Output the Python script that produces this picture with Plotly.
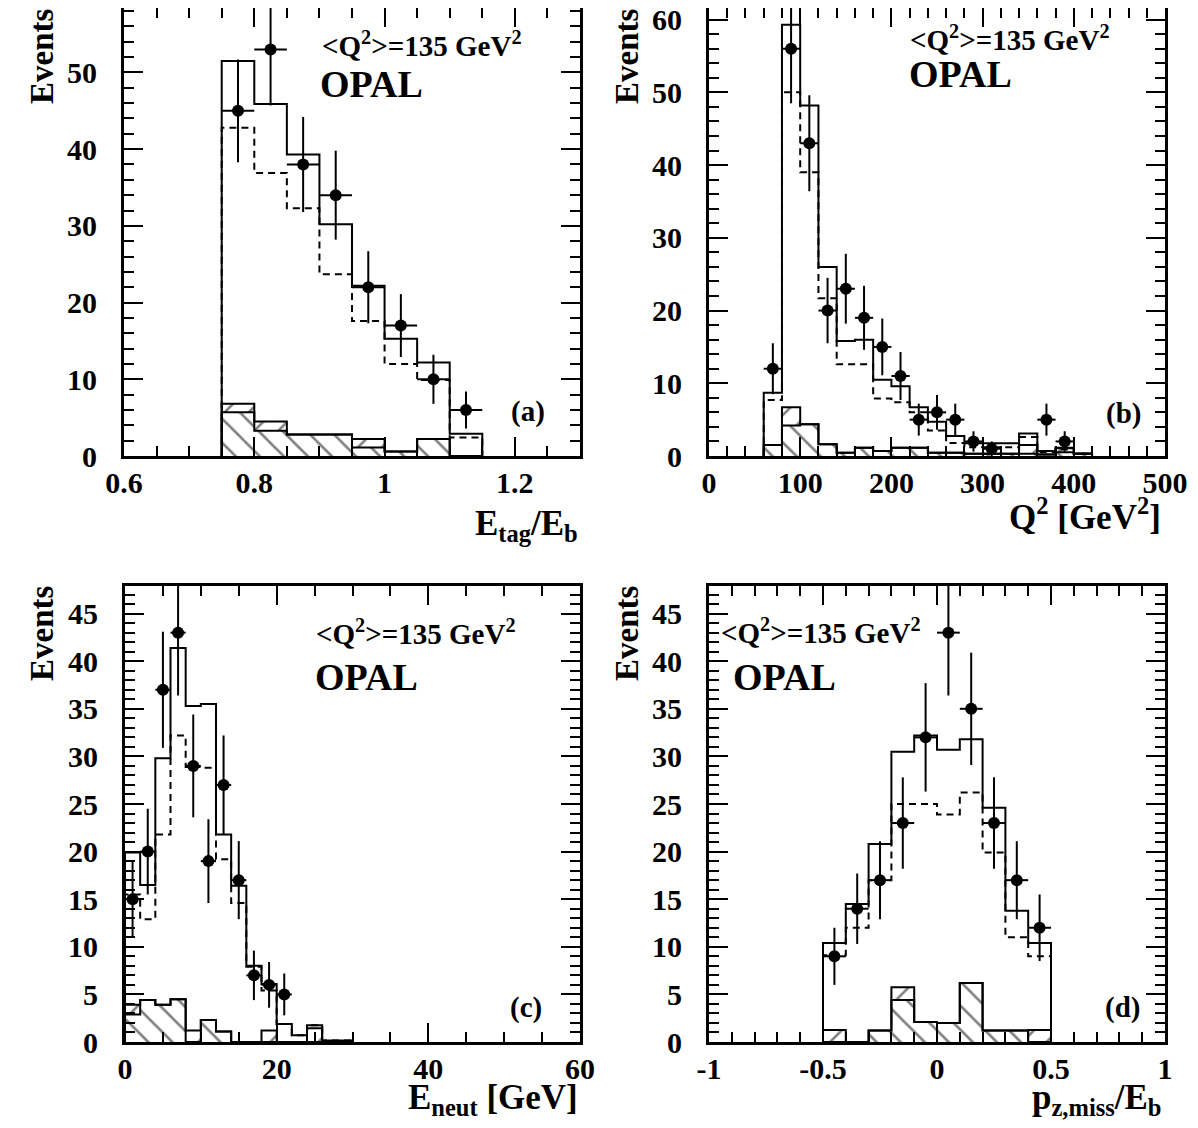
import plotly.graph_objects as go

FONT = "Liberation Serif"
W, H = 1198, 1128
OFF = 8  # default page margin around the plot div
FW, FH = W - 2 * OFF, H - 2 * OFF

# ---- panel (a): E_tag/E_b ----
etag_edges = [0.75, 0.80, 0.85, 0.90, 0.95, 1.00, 1.05, 1.10, 1.15]
etag_total = [51.5, 45.9, 39.3, 30.2, 22.2, 15.3, 12.2, 2.9]
etag_signal = [42.8, 36.9, 32.3, 23.7, 17.6, 12.0, 9.9, 2.4]
etag_bkg1 = [5.7, 3.3, 2.8, 2.8, 1.1, 0.6, 2.2, 0.0]
etag_bkg2 = [6.8, 4.5, 2.8, 2.8, 2.2, 0.6, 2.2, 0.0]
etag_x = [0.775, 0.825, 0.875, 0.925, 0.975, 1.025, 1.075, 1.125]
etag_n = [45, 53, 38, 34, 22, 17, 10, 6]
etag_err = [6.7, 7.3, 6.2, 5.8, 4.7, 4.1, 3.2, 2.4]

# ---- panel (b): Q^2 ----
q2_edges = [60, 80, 100, 120, 140, 160, 180, 200, 220, 240, 260, 280, 300,
            320, 340, 360, 380, 400, 420]
q2_total = [8.7, 59.3, 48.2, 26.0, 15.8, 16.0, 10.5, 9.6, 6.7, 4.7, 2.75,
            1.75, 1.75, 1.75, 3.1, 0.7, 1.15, 0.35]
q2_signal = [7.7, 50.0, 39.0, 21.7, 12.6, 12.6, 7.9, 7.4, 6.0, 3.5, 1.8,
             1.2, 1.2, 1.2, 2.6, 0.5, 0.9, 0.3]
q2_bkg1 = [1.5, 4.2, 4.35, 1.6, 0.45, 1.15, 0.7, 1.15, 1.15, 0.45, 0.45,
           0.3, 0.3, 0.3, 0.3, 0.2, 0.5, 0.3]
q2_bkg2 = [1.5, 6.7, 4.35, 1.6, 0.45, 1.15, 0.7, 1.15, 1.15, 0.45, 0.45,
           0.3, 0.3, 0.3, 1.5, 0.2, 1.05, 0.3]
q2_x = [70, 90, 110, 130, 150, 170, 190, 210, 230, 250, 270, 290, 310, 370, 390]
q2_n = [12, 56, 43, 20, 23, 19, 15, 11, 5, 6, 5, 2, 1, 5, 2]
q2_err = [3.5, 7.5, 6.6, 4.5, 4.8, 4.4, 3.9, 3.3, 2.2, 2.4, 2.2, 1.4, 1.0, 2.2, 1.4]

# ---- panel (c): E_neut ----
en_edges = [0, 2, 4, 6, 8, 10, 12, 14, 16, 18, 20, 22, 24, 26, 28, 30]
en_total = [19.9, 16.5, 29.8, 41.4, 35.3, 35.5, 21.8, 16.4, 8.0, 6.1, 1.9,
            0.7, 1.75, 0.17, 0.17]
en_signal = [15.5, 12.9, 21.8, 32.2, 28.9, 28.8, 19.2, 14.6, 7.9, 5.4, 1.9,
             0.7, 1.75, 0.17, 0.17]
en_bkg1 = [2.9, 4.4, 3.9, 4.5, 0.0, 2.3, 1.1, 0.0, 0.0, 0.0, 0.0, 0.0, 0.0, 0.0, 0.0]
en_bkg2 = [3.9, 4.4, 3.9, 4.5, 1.2, 2.3, 1.1, 0.0, 0.0, 1.2, 0.0, 0.0, 1.45, 0.0, 0.0]
en_x = [1, 3, 5, 7, 9, 11, 13, 15, 17, 19, 21]
en_n = [15, 20, 37, 43, 29, 19, 27, 17, 7, 6, 5]
en_err = [3.9, 4.5, 6.1, 6.6, 5.4, 4.4, 5.2, 4.1, 2.6, 2.4, 2.2]

# ---- panel (d): p_z,miss/E_b ----
pz_edges = [-0.5, -0.4, -0.3, -0.2, -0.1, 0.0, 0.1, 0.2, 0.3, 0.4, 0.5]
pz_total = [10.4, 14.5, 20.8, 30.5, 32.2, 30.7, 31.8, 24.6, 13.8, 10.4]
pz_signal = [9.1, 12.0, 17.0, 25.0, 25.0, 23.9, 26.2, 19.9, 11.0, 9.0]
pz_bkg1 = [0.0, 0.0, 1.2, 4.4, 2.1, 2.0, 6.2, 1.2, 1.2, 0.0]
pz_bkg2 = [1.25, 0.0, 1.2, 5.75, 2.1, 2.0, 6.2, 1.2, 1.2, 1.25]
pz_x = [-0.45, -0.35, -0.25, -0.15, -0.05, 0.05, 0.15, 0.25, 0.35, 0.45]
pz_n = [9, 14, 17, 23, 32, 43, 35, 23, 17, 12]
pz_err = [3.0, 3.7, 4.1, 4.8, 5.7, 6.6, 5.9, 4.8, 4.1, 3.5]
pz_tickvals = [-1, -0.5, 0, 0.5, 1]
pz_ticktext = ["-1", "-0.5", "0", "0.5", "1"]


def step(edges, vals):
    # outline of a histogram, closed to zero at both ends
    xs = [edges[0]] + list(edges)
    ys = [0] + list(vals) + [0]
    return xs, ys


def hatch(shape):
    return dict(shape=shape, size=17, solidity=0.15, fgcolor="black", bgcolor="white")


def add_panel(fig, ax, edges, total, signal, bkg1, bkg2, px, pn, perr):
    xa, ya = "x" + ax, "y" + ax
    xs, ys = step(edges, bkg1)
    fig.add_trace(go.Scatter(x=xs, y=ys, xaxis=xa, yaxis=ya, mode="lines",
                             line=dict(shape="hv", color="black", width=2),
                             fill="tozeroy", fillcolor="white", fillpattern=hatch("\\"),
                             showlegend=False, hoverinfo="skip"))
    xs, ys = step(edges, bkg2)
    fig.add_trace(go.Scatter(x=xs, y=ys, xaxis=xa, yaxis=ya, mode="lines",
                             line=dict(shape="hv", color="black", width=2),
                             fill="tonexty", fillcolor="white", fillpattern=hatch("/"),
                             showlegend=False, hoverinfo="skip"))
    xs, ys = step(edges, signal)
    fig.add_trace(go.Scatter(x=xs, y=ys, xaxis=xa, yaxis=ya, mode="lines",
                             line=dict(shape="hv", color="black", width=2, dash="7px,5px"),
                             showlegend=False, hoverinfo="skip"))
    xs, ys = step(edges, total)
    fig.add_trace(go.Scatter(x=xs, y=ys, xaxis=xa, yaxis=ya, mode="lines",
                             line=dict(shape="hv", color="black", width=2),
                             showlegend=False, hoverinfo="skip"))
    half = (edges[1] - edges[0]) / 2
    fig.add_trace(go.Scatter(x=px, y=pn, xaxis=xa, yaxis=ya, mode="markers",
                             marker=dict(symbol="circle", size=12, color="black"),
                             error_y=dict(type="data", array=perr, color="black",
                                          thickness=2, width=0),
                             error_x=dict(type="constant", value=half, color="black",
                                          thickness=2, width=0),
                             showlegend=False))


fig = go.Figure()
add_panel(fig, "", etag_edges, etag_total, etag_signal, etag_bkg1, etag_bkg2,
          etag_x, etag_n, etag_err)
add_panel(fig, "2", q2_edges, q2_total, q2_signal, q2_bkg1, q2_bkg2,
          q2_x, q2_n, q2_err)
add_panel(fig, "3", en_edges, en_total, en_signal, en_bkg1, en_bkg2,
          en_x, en_n, en_err)
add_panel(fig, "4", pz_edges, pz_total, pz_signal, pz_bkg1, pz_bkg2,
          pz_x, pz_n, pz_err)


def px2x(p):
    return (p - OFF) / FW


def px2y(p):
    return 1 - (p - OFF) / FH


def xdom(a, b):
    return [px2x(a), px2x(b)]


def ydom(top, bottom):
    return [px2y(bottom), min(1.0, px2y(top))]


tickfont = dict(family=FONT, size=30, color="black", weight="bold")


def axis(rng, dom, anchor, dtick, minor_dtick, standoff, tick0=0, **kw):
    d = dict(range=rng, domain=dom, anchor=anchor, dtick=dtick, tick0=tick0,
             automargin=False, ticklabeloverflow="allow",
             ticks="inside", ticklen=19, tickwidth=2, tickcolor="black",
             showline=True, linewidth=3, linecolor="black", mirror="ticks",
             showgrid=False, zeroline=False, tickfont=tickfont,
             ticklabelstandoff=standoff,
             minor=dict(dtick=minor_dtick, ticks="inside", ticklen=10,
                        tickwidth=2, tickcolor="black", showgrid=False))
    d.update(kw)
    return d


fig.update_layout(
    width=FW, height=FH,
    margin=dict(l=0, r=0, t=0, b=0),
    paper_bgcolor="white", plot_bgcolor="white",
    xaxis=axis([0.6, 1.3], xdom(124, 580), "y", 0.2, 0.05, -2, tick0=0.6),
    yaxis=axis([0, 58.4], ydom(8, 456), "x", 10, 2, 18),
    xaxis2=axis([0, 500], xdom(709, 1165), "y2", 100, 20, -2),
    yaxis2=axis([0, 61.6], ydom(8, 456), "x2", 10, 2, 18),
    xaxis3=axis([0, 60], xdom(125, 580), "y3", 20, 5, -2),
    yaxis3=axis([0, 47.9], ydom(586, 1042), "x3", 5, 1, 18),
    xaxis4=axis([-1, 1], xdom(709, 1165), "y4", 0.5, 0.1, -2, tick0=-1,
                tickmode="array", tickvals=pz_tickvals, ticktext=pz_ticktext),
    yaxis4=axis([0, 47.9], ydom(586, 1042), "x4", 5, 1, 18),
)

# text labels
q2_text = "&lt;Q<sup>2</sup>&gt;=135 GeV<sup>2</sup>"
labels = [
    # text, x px, y px, size, xanchor
    (q2_text, 320, 44, 29, "left"),
    ("OPAL", 318, 84, 38, "left"),
    ("(a)", 547, 411, 29, "right"),
    (q2_text, 908, 38, 29, "left"),
    ("OPAL", 907, 74, 38, "left"),
    ("(b)", 1143, 413, 29, "right"),
    (q2_text, 314, 632, 29, "left"),
    ("OPAL", 313, 677, 38, "left"),
    ("(c)", 544, 1007, 29, "right"),
    (q2_text, 719, 631, 29, "left"),
    ("OPAL", 731, 677, 38, "left"),
    ("(d)", 1142, 1007, 29, "right"),
]
for txt, x, y, size, xa in labels:
    fig.add_annotation(text=txt, x=px2x(x), y=px2y(y), xref="paper", yref="paper",
                       xanchor=xa, yanchor="middle", showarrow=False,
                       font=dict(family=FONT, size=size, color="black", weight="bold"))

# axis titles
titles = [
    ("E<sub>tag</sub>/E<sub>b</sub>", 580, 525),
    ("Q<sup>2</sup> [GeV<sup>2</sup>]", 1163, 515),
    ("E<sub>neut</sub> [GeV]", 580, 1099),
    ("p<sub>z,miss</sub>/E<sub>b</sub>", 1163, 1099),
]
for txt, x, y in titles:
    fig.add_annotation(text=txt, x=px2x(x), y=px2y(y), xref="paper", yref="paper",
                       xanchor="right", yanchor="middle", showarrow=False,
                       font=dict(family=FONT, size=35, color="black", weight="bold"))

for x, y in [(42, 56), (627, 56), (42, 633), (627, 633)]:
    fig.add_annotation(text="Events", x=px2x(x), y=px2y(y), xref="paper", yref="paper",
                       xanchor="center", yanchor="middle", textangle=-90, showarrow=False,
                       font=dict(family=FONT, size=33, color="black", weight="bold"))

fig.write_html("out.html")
